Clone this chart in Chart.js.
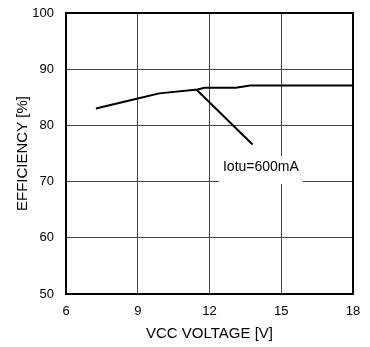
<!DOCTYPE html>
<html>
<head>
<meta charset="utf-8">
<script src="https://cdn.jsdelivr.net/npm/chart.js@4"></script>
<style>
html,body{margin:0;padding:0;background:#fff;}
#wrap{width:370px;height:347px;position:relative;}
</style>
</head>
<body>
<div id="wrap"><canvas id="c" width="370" height="347"></canvas></div>
<script>
// Data
const curveVoltage = [7.25, 9.0, 9.9, 11.5, 11.8, 13.1, 13.7, 18];
const curveEfficiency = [83.0, 84.8, 85.7, 86.4, 86.7, 86.7, 87.1, 87.1];
const dropVoltage = [11.45, 13.8];
const dropEfficiency = [86.4, 76.6];
const xTicks = [6, 9, 12, 15, 18];
const yTicks = [50, 60, 70, 80, 90, 100];
const labelText = "Iotu=600mA";
const labelPos = [14.15, 72.6];
const xTitle = "VCC VOLTAGE [V]";
const yTitle = "EFFICIENCY [%]";

const FONT = "'Liberation Sans', Arial, sans-serif";

const toPts = (xs, ys) => xs.map((x, i) => ({x: x, y: ys[i]}));

const framePlugin = {
  id: 'frame',
  beforeDatasetsDraw(chart) {
    const {ctx, scales} = chart;
    const x = scales.x, y = scales.y;
    // label with white background
    ctx.save();
    ctx.font = "14px " + FONT;
    const px = x.getPixelForValue(labelPos[0]);
    const py = y.getPixelForValue(labelPos[1]);
    const w = ctx.measureText(labelText).width;
    ctx.fillStyle = '#fff';
    ctx.fillRect(px - w / 2 - 4, py - 11, w + 8, 28);
    ctx.fillStyle = '#000';
    ctx.textAlign = 'center';
    ctx.textBaseline = 'middle';
    ctx.fillText(labelText, px, py);
    ctx.restore();
  },
  afterDatasetsDraw(chart) {
    const {ctx, chartArea: a} = chart;
    ctx.save();
    ctx.strokeStyle = '#000';
    ctx.lineWidth = 2;
    ctx.strokeRect(a.left, a.top, a.right - a.left, a.bottom - a.top);
    // y title
    ctx.font = "15px " + FONT;
    ctx.fillStyle = '#000';
    ctx.textAlign = 'center';
    ctx.textBaseline = 'middle';
    ctx.translate(23, (a.top + a.bottom) / 2);
    ctx.rotate(-Math.PI / 2);
    ctx.fillText(yTitle, 0, 0);
    ctx.restore();
  }
};

new Chart(document.getElementById('c'), {
  type: 'line',
  data: {
    datasets: [
      {data: toPts(curveVoltage, curveEfficiency), borderColor: '#000', borderWidth: 2, pointRadius: 0, tension: 0, fill: false},
      {data: toPts(dropVoltage, dropEfficiency), borderColor: '#000', borderWidth: 2, pointRadius: 0, tension: 0, fill: false}
    ]
  },
  options: {
    responsive: false,
    animation: false,
    events: [],
    layout: {padding: {left: 0, right: 17, top: 13, bottom: 0}},
    plugins: {legend: {display: false}, tooltip: {enabled: false}},
    scales: {
      x: {
        type: 'linear', min: 6, max: 18,
        afterBuildTicks: s => { s.ticks = xTicks.map(v => ({value: v})); },
        afterFit: s => { s.height = 53; s.paddingLeft = 0; s.paddingRight = 0; },
        ticks: {color: '#000', font: {family: FONT, size: 13}, padding: 10, maxRotation: 0},
        grid: {color: '#444', lineWidth: 1, drawTicks: false},
        border: {display: false},
        title: {display: true, text: xTitle, color: '#000', font: {family: FONT, size: 15}, padding: {top: 0, bottom: 4}}
      },
      y: {
        type: 'linear', min: 50, max: 100,
        afterBuildTicks: s => { s.ticks = yTicks.map(v => ({value: v})); },
        afterFit: s => { s.width = 66; s.paddingTop = 0; s.paddingBottom = 0; },
        ticks: {color: '#000', font: {family: FONT, size: 13}, padding: 12},
        grid: {color: '#444', lineWidth: 1, drawTicks: false},
        border: {display: false}
      }
    }
  },
  plugins: [framePlugin]
});
</script>
</body>
</html>
